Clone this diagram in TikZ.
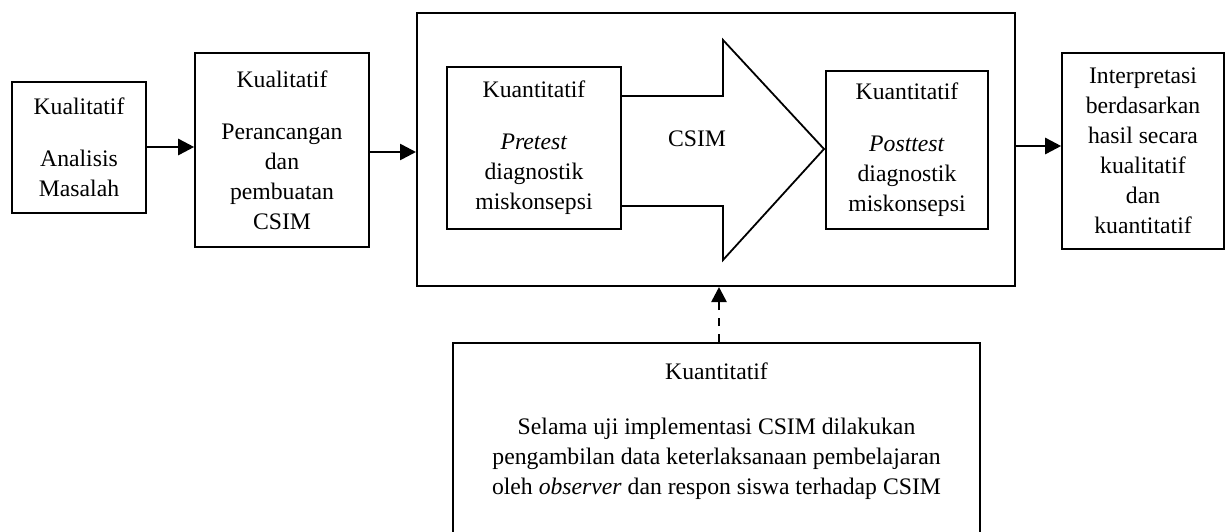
\documentclass[tikz,border=0pt]{standalone}
\usepackage{fontspec}
\setmainfont{Liberation Serif}
\usetikzlibrary{arrows.meta,calc}
\begin{document}
\begin{tikzpicture}[x=1pt,y=-1pt,
  txt/.style={font=\fontsize{23.7}{30}\selectfont},
  box/.style={draw,line width=1.6pt,align=center,inner sep=0pt,txt},
  arr/.style={line width=2.6pt,-{Triangle[length=16pt,width=16pt]}},
  dasharr/.style={line width=2.6pt,dash pattern=on 8pt off 8pt,-{Triangle[length=15pt,width=15pt]}}]
\useasboundingbox (0,0) rectangle (1229,531);
\node[box,minimum width=134pt,minimum height=131pt] (b1) at (79,147.5)
  {Kualitatif\\[22pt]Analisis\\Masalah};
\node[box,minimum width=174pt,minimum height=194pt] (b2) at (282,150)
  {Kualitatif\\[22pt]Perancangan\\dan\\pembuatan\\CSIM};
\node[draw,line width=2pt,minimum width=598pt,minimum height=273pt,inner sep=0pt] (big) at (716,149.5) {};
\node[box,minimum width=174pt,minimum height=162pt] (pre) at (534,148)
  {Kuantitatif\\[22pt]\textit{Pretest}\\diagnostik\\miskonsepsi};
\node[box,minimum width=162pt,minimum height=158pt] (post) at (907,150)
  {Kuantitatif\\[22pt]\textit{Posttest}\\diagnostik\\miskonsepsi};
\node[box,minimum width=162pt,minimum height=196pt] (res) at (1143,151)
  {Interpretasi\\berdasarkan\\hasil secara\\kualitatif\\dan\\kuantitatif};
\coordinate (s1) at (621,96);
\coordinate (h1) at (723,96);
\coordinate (h2) at (723,40);
\coordinate (tip) at (824,149);
\coordinate (h3) at (723,260);
\coordinate (h4) at (723,206);
\coordinate (s2) at (621,206);
\draw[line width=1.8pt,line join=miter] (s1) -- (h1) -- (h2) -- (tip) -- (h3) -- (h4) -- (s2);
\node[txt,inner sep=0pt] (csim) at (697,139) {CSIM};
\node[draw,line width=1.6pt,inner sep=0pt,anchor=north,txt] (obs) at (716.5,342)
  {\parbox[t][200pt][t]{527pt}{\centering\vspace*{20pt}Kuantitatif\\[25pt]Selama uji implementasi CSIM dilakukan\\pengambilan data keterlaksanaan pembelajaran\\oleh \textit{observer} dan respon siswa terhadap CSIM}};
\draw[arr] (b1.east |- 0,147) -- (b2.west |- 0,147);
\draw[arr] (b2.east |- 0,152) -- (big.west |- 0,152);
\draw[arr] (big.east |- 0,146) -- (res.west |- 0,146);
\draw[dasharr] (719,342) -- (719,287);
\end{tikzpicture}
\end{document}
